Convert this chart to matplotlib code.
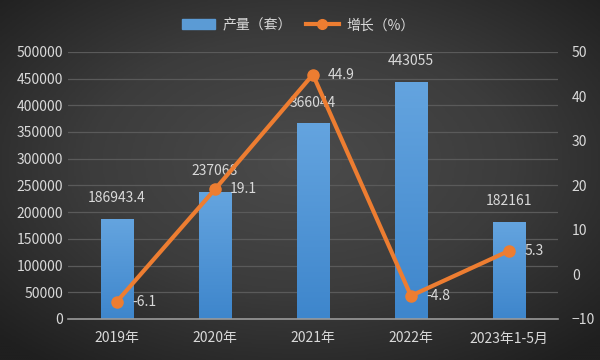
import matplotlib.pyplot as plt
import numpy as np
from matplotlib.colors import LinearSegmentedColormap
from matplotlib.patches import Patch
from matplotlib.lines import Line2D

plt.rcParams['font.family'] = ['Noto Sans CJK SC', 'DejaVu Sans']

# data
years = ['2019年', '2020年', '2021年', '2022年', '2023年1-5月']
output = [186943.4, 237068, 366044, 443055, 182161]
growth = [-6.1, 19.1, 44.9, -4.8, 5.3]
output_labels = ['186943.4', '237068', '366044', '443055', '182161']
growth_labels = ['-6.1', '19.1', '44.9', '-4.8', '5.3']

txt = '#d9d9d9'
bar_col = '#5b9bd5'
line_col = '#ed7d31'

fig = plt.figure(figsize=(6, 3.6), dpi=100)

# dark radial background, lighter in the middle
bg = fig.add_axes([0, 0, 1, 1])
yy, xx = np.mgrid[-1:1:200j, -1:1:300j]
r = np.sqrt(xx**2 + (yy + 0.1)**2) / np.sqrt(2)
bg_cm = LinearSegmentedColormap.from_list('bg', ['#4b4b4b', '#3c3c3c', '#1f1f1f'])
bg.imshow(r, cmap=bg_cm, vmin=0, vmax=1, aspect='auto', extent=[0, 1, 0, 1])
bg.set_axis_off()

ax = fig.add_axes([0.113, 0.114, 0.817, 0.742])
ax.patch.set_alpha(0)
x = np.arange(len(years))
bars = ax.bar(x, output, width=0.33, color=bar_col, zorder=2)

# vertical gradient in bars
grad = np.linspace(0, 1, 100).reshape(-1, 1)
cm = LinearSegmentedColormap.from_list('b', ['#3e86cc', '#64a4df'])
for b in bars:
    b.set_facecolor('none')
    im = ax.imshow(grad, cmap=cm, aspect='auto', origin='lower', zorder=2,
                   extent=[b.get_x(), b.get_x() + b.get_width(), 0, b.get_height()])
    im.set_clip_path(b)

ax.set_xlim(-0.5, len(years) - 0.5)
ax.set_ylim(0, 500000)
ax.set_yticks(np.arange(0, 500001, 50000))
ax.set_xticks(x)
ax.set_xticklabels(years)
ax.grid(axis='y', color='#5a5a5a', lw=0.9, zorder=0)
for s in ['top', 'right', 'left']:
    ax.spines[s].set_visible(False)
ax.spines['bottom'].set_color('#9a9a9a')
ax.spines['bottom'].set_linewidth(1.2)
ax.tick_params(length=0, colors=txt, labelsize=10)
ax.tick_params(axis='x', pad=9)

for i, v in enumerate(output):
    ax.annotate(output_labels[i], (i, v), xytext=(0, 10), textcoords='offset points',
                ha='center', va='bottom', color=txt, fontsize=10)

ax2 = ax.twinx()
ax2.plot(x, growth, color=line_col, lw=3, marker='o', ms=8, zorder=5)
ax2.set_ylim(-10, 50)
ax2.set_yticks(np.arange(-10, 51, 10))
for s in ax2.spines.values():
    s.set_visible(False)
ax2.tick_params(length=0, colors=txt, labelsize=10, pad=10)
for i, v in enumerate(growth):
    ax2.annotate(growth_labels[i], (i, v), xytext=(11, 0), textcoords='offset points',
                 ha='left', va='center', color=txt, fontsize=10)

# legend
handles = [Patch(color=bar_col, label='产量（套）'),
           Line2D([], [], color=line_col, lw=3, marker='o', ms=7, label='增长（%）')]
fig.legend(handles=handles, loc='center', bbox_to_anchor=(0.497, 0.93), ncol=2,
           frameon=False, labelcolor=txt, fontsize=10, handlelength=2.4,
           columnspacing=1.0, handletextpad=0.5)

fig.savefig('out.png', dpi=100)
